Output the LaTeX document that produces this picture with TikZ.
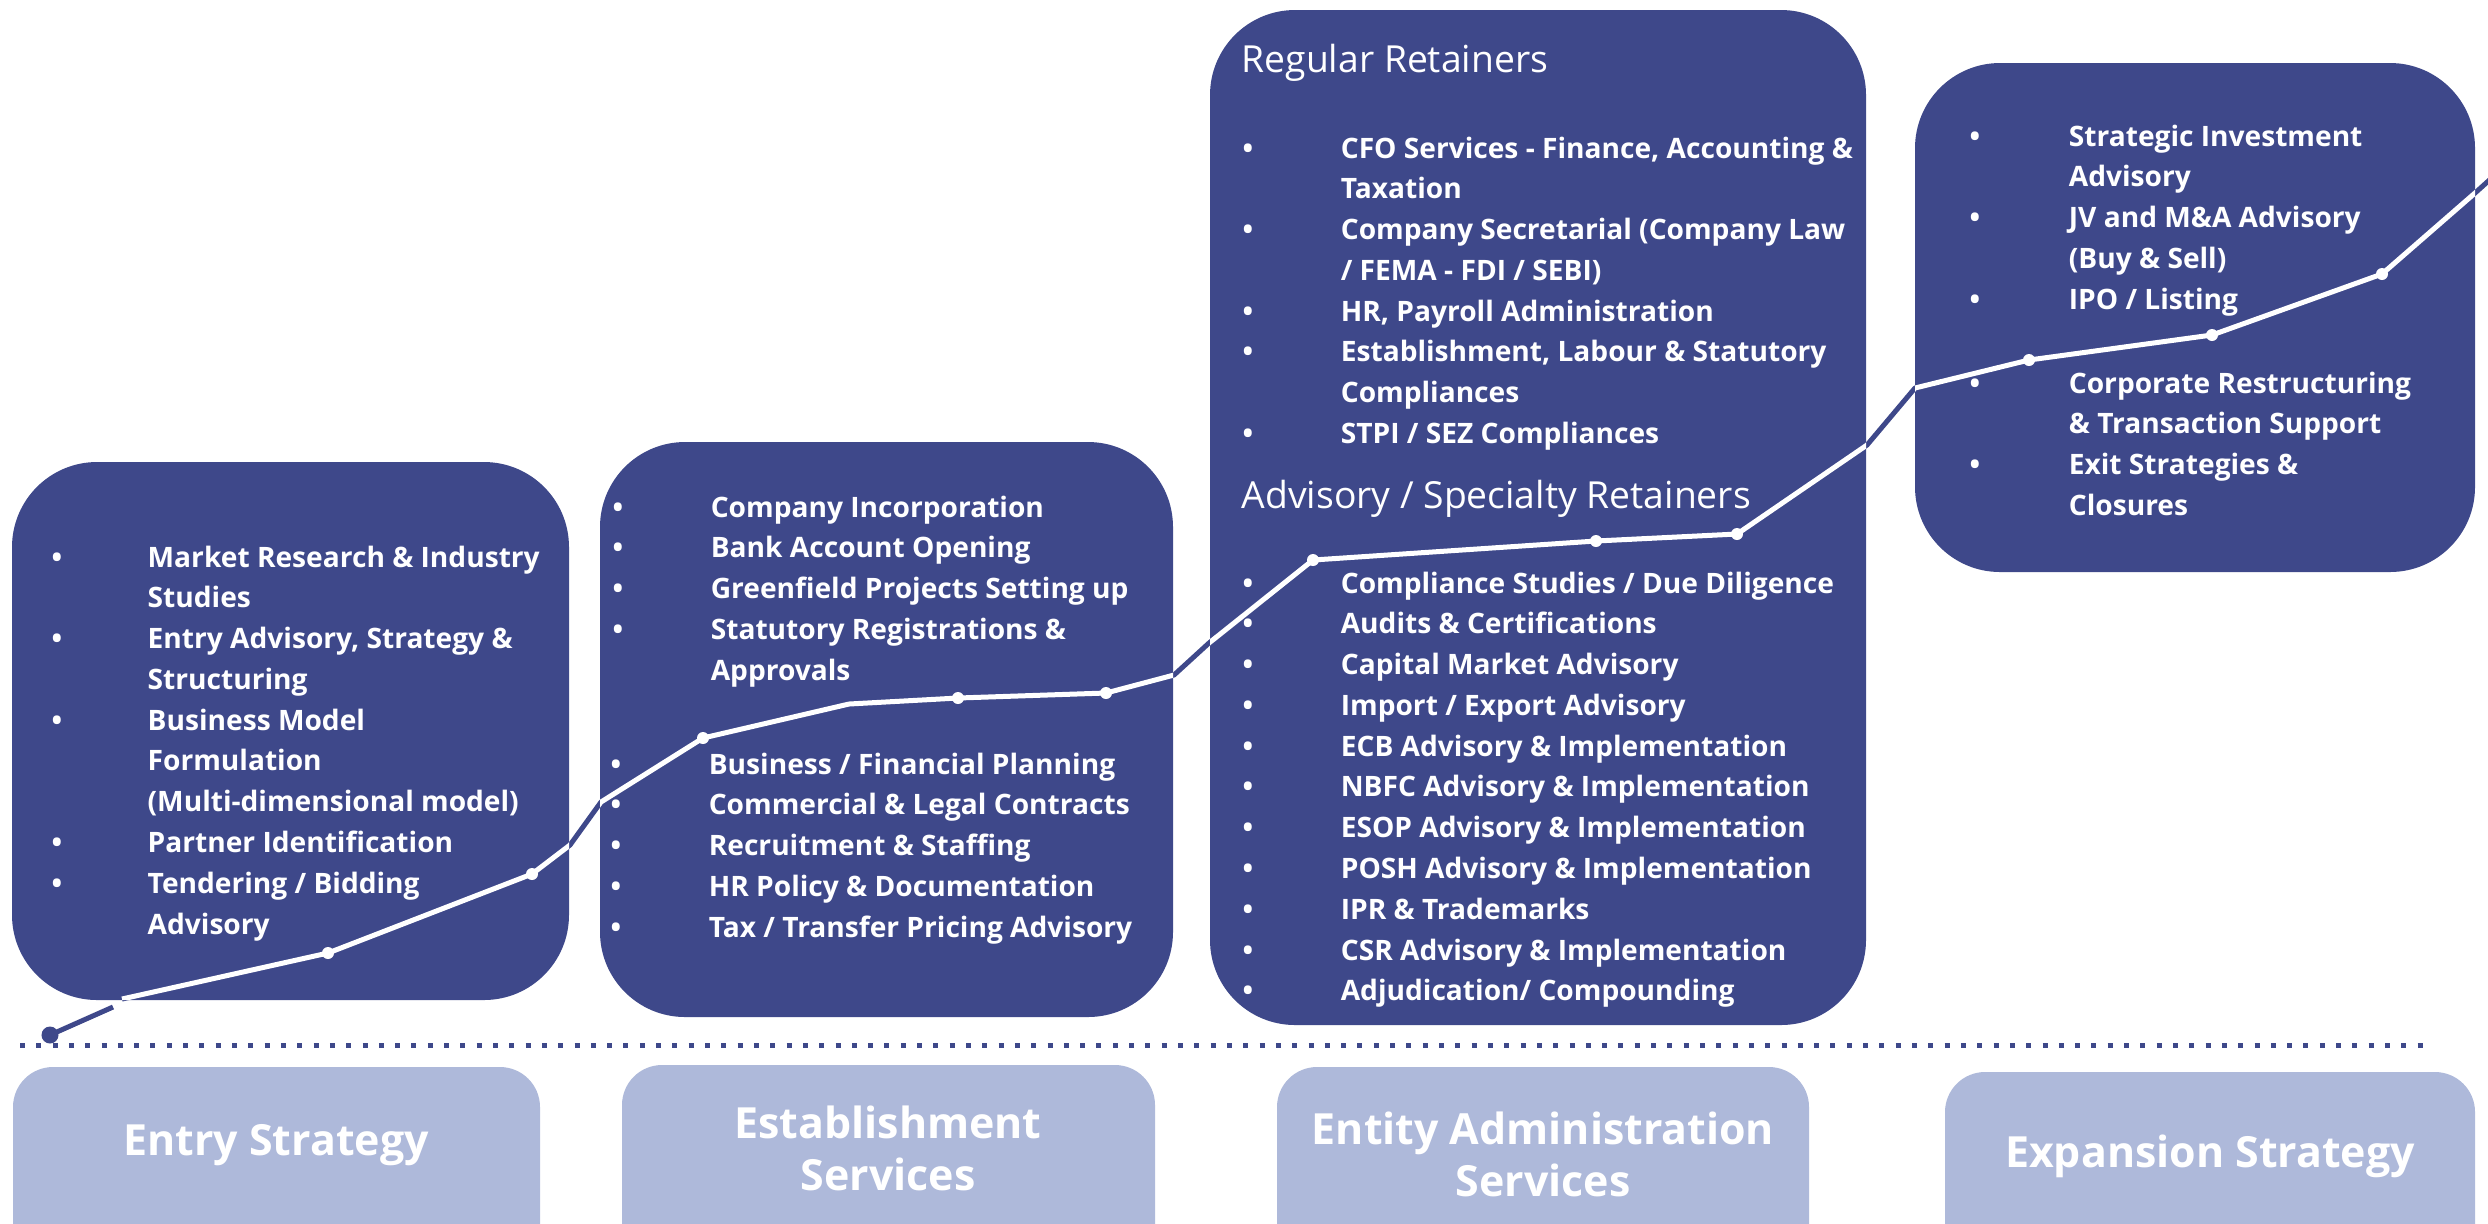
\documentclass[tikz,border=0pt]{standalone}
\usepackage{fontspec}
\setmainfont{Open Sans}
\definecolor{navy}{RGB}{62,72,138}
\definecolor{lightbox}{RGB}{174,185,218}
\newlength\bulletw
\newcommand\bl{\makebox[\bulletw][l]{\textbullet}}
\begin{document}
\begin{tikzpicture}[x=0.01cm,y=-0.01cm,
  listnode/.style={anchor=base west, inner sep=0pt, text=white, font=\fontsize{8}{11.6}\selectfont\bfseries},
  headnode/.style={anchor=base west, inner sep=0pt, text=white, font=\fontsize{10.6}{12.5}\selectfont},
  labelnode/.style={align=center, inner sep=0pt, text=white, font=\fontsize{12.2}{14.8}\selectfont\bfseries},
  mainbox/.style={fill=navy, rounded corners=0.85cm},
  stagebox/.style={fill=lightbox, rounded corners=0.4cm},
  trail/.style={line width=0.05cm, line join=round},
  waydot/.style={circle, fill=white, inner sep=0pt, minimum size=0.12cm},
  startdot/.style={circle, fill=navy, inner sep=0pt, minimum size=0.17cm}
]
\useasboundingbox (0,0) rectangle (2488,1223);
\clip (0,0) rectangle (2488,1223);

% main boxes
\fill[mainbox] (12,462) rectangle (569,1000);
\fill[mainbox] (600,442) rectangle (1173,1017);
\fill[mainbox] (1210,10) rectangle (1866,1025);
\fill[mainbox] (1915,63) rectangle (2475,572);

% stage boxes
\fill[stagebox] (13,1067) rectangle (540,1280);
\fill[stagebox] (622,1065) rectangle (1155,1280);
\fill[stagebox] (1277,1067) rectangle (1809,1280);
\fill[stagebox] (1945,1072) rectangle (2475,1280);

% dotted base line
\coordinate (dl) at (20,1045);
\coordinate (dr) at (2428,1045);
\draw[navy, line width=0.05cm, dash pattern=on 0.05cm off 0.113cm] (dl) -- (dr);

% growth line coordinates
\coordinate (A) at (50,1035);
\coordinate (B) at (113,1007);
\coordinate (C) at (122,999);
\coordinate (D) at (328,953);
\coordinate (E) at (532,874);
\coordinate (F) at (570,845);
\coordinate (G) at (601,802);
\coordinate (H) at (703,738);
\coordinate (I) at (849,704);
\coordinate (J) at (958,698);
\coordinate (K) at (1106,693);
\coordinate (L) at (1174,675);
\coordinate (M) at (1209,643);
\coordinate (N) at (1313,560);
\coordinate (O) at (1596,541);
\coordinate (P) at (1737,534);
\coordinate (Q) at (1867,445);
\coordinate (R) at (1915,388);
\coordinate (S) at (2029,360);
\coordinate (T) at (2212,335);
\coordinate (U) at (2382,274);
\coordinate (V) at (2475,193);
\coordinate (W) at (2505,166);

\draw[trail, navy] (A) -- (B);
\draw[trail, navy] (C) -- (D) -- (E) -- (F) -- (G) -- (H) -- (I) -- (J) -- (K) -- (L) -- (M) -- (N) -- (O) -- (P) -- (Q) -- (R) -- (S) -- (T) -- (U) -- (V) -- (W);
\begin{scope}
\clip[rounded corners=0.85cm] (12,462) rectangle (569,1000) (600,442) rectangle (1173,1017) (1210,10) rectangle (1866,1025) (1915,63) rectangle (2475,572);
\draw[trail, white] (C) -- (D) -- (E) -- (F) -- (G) -- (H) -- (I) -- (J) -- (K) -- (L) -- (M) -- (N) -- (O) -- (P) -- (Q) -- (R) -- (S) -- (T) -- (U) -- (V) -- (W);
\end{scope}
\node[startdot] (s0) at (A) {};
\foreach \p in {D,E,H,J,K,N,O,P,S,T,U} \node[waydot] (w\p) at (\p) {};

% box 1
\node[listnode] (b1) at (51,567) {\setlength\bulletw{27.3pt}\begin{tabular}[t]{@{}l@{}l@{}}
\bl & Market Research \& Industry\\
 & Studies\\
\bl & Entry Advisory, Strategy \&\\
 & Structuring\\
\bl & Business Model\\
 & Formulation\\
 & (Multi-dimensional model)\\
\bl & Partner Identification\\
\bl & Tendering / Bidding\\
 & Advisory
\end{tabular}};

% box 2
\node[listnode] (b2a) at (612,517) {\setlength\bulletw{27.9pt}\begin{tabular}[t]{@{}l@{}l@{}}
\bl & Company Incorporation\\
\bl & Bank Account Opening\\
\bl & Greenfield Projects Setting up\\
\bl & Statutory Registrations \&\\
 & Approvals
\end{tabular}};
\node[listnode] (b2b) at (610,774) {\setlength\bulletw{27.9pt}\begin{tabular}[t]{@{}l@{}l@{}}
\bl & Business / Financial Planning\\
\bl & Commercial \& Legal Contracts\\
\bl & Recruitment \& Staffing\\
\bl & HR Policy \& Documentation\\
\bl & Tax / Transfer Pricing Advisory
\end{tabular}};

% box 3
\node[headnode] (h3a) at (1241,72) {Regular Retainers};
\node[listnode] (b3a) at (1242,158) {\setlength\bulletw{27.9pt}\begin{tabular}[t]{@{}l@{}l@{}}
\bl & CFO Services - Finance, Accounting \&\\
 & Taxation\\
\bl & Company Secretarial (Company Law\\
 & / FEMA - FDI / SEBI)\\
\bl & HR, Payroll Administration\\
\bl & Establishment, Labour \& Statutory\\
 & Compliances\\
\bl & STPI / SEZ Compliances
\end{tabular}};
\node[headnode] (h3b) at (1241,508) {Advisory / Specialty Retainers};
\node[listnode] (b3b) at (1242,593) {\setlength\bulletw{27.9pt}\begin{tabular}[t]{@{}l@{}l@{}}
\bl & Compliance Studies / Due Diligence\\
\bl & Audits \& Certifications\\
\bl & Capital Market Advisory\\
\bl & Import / Export Advisory\\
\bl & ECB Advisory \& Implementation\\
\bl & NBFC Advisory \& Implementation\\
\bl & ESOP Advisory \& Implementation\\
\bl & POSH Advisory \& Implementation\\
\bl & IPR \& Trademarks\\
\bl & CSR Advisory \& Implementation\\
\bl & Adjudication/ Compounding
\end{tabular}};

% box 4
\node[listnode] (b4a) at (1969,146) {\setlength\bulletw{28.2pt}\begin{tabular}[t]{@{}l@{}l@{}}
\bl & Strategic Investment\\
 & Advisory\\
\bl & JV and M\&A Advisory\\
 & (Buy \& Sell)\\
\bl & IPO / Listing
\end{tabular}};
\node[listnode] (b4b) at (1969,393) {\setlength\bulletw{28.2pt}\begin{tabular}[t]{@{}l@{}l@{}}
\bl & Corporate Restructuring\\
 & \& Transaction Support\\
\bl & Exit Strategies \&\\
 & Closures
\end{tabular}};

% stage labels
\node[labelnode] (l1) at (276,1145) {Entry Strategy};
\node[labelnode] (l2) at (888,1148) {Establishment\\Services};
\node[labelnode] (l3) at (1543,1154) {Entity Administration\\Services};
\node[labelnode] (l4) at (2210,1156) {Expansion Strategy};
\end{tikzpicture}
\end{document}
